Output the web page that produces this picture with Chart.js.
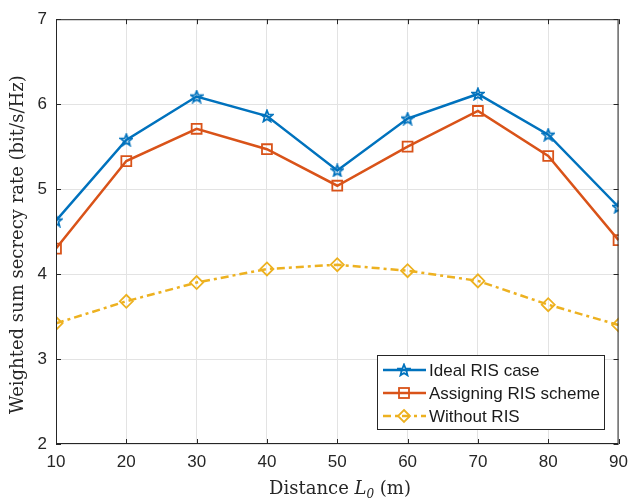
<title>Weighted sum secrecy rate</title>
<meta charset="UTF-8">
<body style="margin:0; background:#fff">
<script src="https://cdn.jsdelivr.net/npm/chart.js@4.4.1/dist/chart.umd.min.js"></script>
<div style="width:636px; height:499px">
<canvas id="chart1" width="636" height="499"></canvas>
</div>
<script>
// data
var distances = [10, 20, 30, 40, 50, 60, 70, 80, 90];
var idealRis = [4.63, 5.58, 6.09, 5.86, 5.22, 5.83, 6.12, 5.64, 4.79];
var assigningRis = [4.30, 5.33, 5.71, 5.47, 5.04, 5.50, 5.92, 5.39, 4.40];
var withoutRis = [3.42, 3.68, 3.90, 4.06, 4.11, 4.04, 3.92, 3.64, 3.40];
var seriesNames = ["Ideal RIS case", "Assigning RIS scheme", "Without RIS"];
var yTicks = [2, 3, 4, 5, 6, 7];

var blue = "#0072BD", orange = "#D95319", yellow = "#EDB120";
var sans = "'Liberation Sans', Arial, sans-serif";
var serif = "'DejaVu Serif', 'Liberation Serif', serif";

function starMarker(color) {
	var c = document.createElement("canvas");
	c.width = 14; c.height = 14;
	var g = c.getContext("2d");
	g.beginPath();
	for (var i = 0; i < 10; i++) {
		var r = (i % 2 == 0) ? 6 : 2.6;
		var a = -Math.PI / 2 + i * Math.PI / 5;
		var px = 7 + r * Math.cos(a), py = 7.5 + r * Math.sin(a);
		if (i == 0) g.moveTo(px, py); else g.lineTo(px, py);
	}
	g.closePath();
	g.strokeStyle = color;
	g.lineWidth = 1.8;
	g.stroke();
	return c;
}
var star = starMarker(blue);

var dashDot = [8, 4, 3, 4];

// box, inward ticks, axis titles, legend
var decor = {
	id: "decor",
	afterDraw: function(chart) {
		var ctx = chart.ctx, a = chart.chartArea;
		var xs = chart.scales.x, ys = chart.scales.y;
		ctx.save();
		ctx.strokeStyle = "#262626";
		ctx.lineWidth = 1;
		ctx.strokeRect(a.left + 0.5, a.top + 0.5, a.right - a.left - 1, a.bottom - a.top - 1);
		ctx.beginPath();
		distances.forEach(function(d) {
			var px = Math.round(xs.getPixelForValue(d)) + 0.5;
			ctx.moveTo(px, a.bottom); ctx.lineTo(px, a.bottom - 5);
			ctx.moveTo(px, a.top); ctx.lineTo(px, a.top + 5);
		});
		yTicks.forEach(function(v) {
			var py = Math.round(ys.getPixelForValue(v)) + 0.5;
			ctx.moveTo(a.left, py); ctx.lineTo(a.left + 5, py);
			ctx.moveTo(a.right, py); ctx.lineTo(a.right - 5, py);
		});
		ctx.stroke();

		// y title
		ctx.fillStyle = "#262626";
		ctx.save();
		ctx.translate(18, (a.top + a.bottom) / 2 + 13);
		ctx.rotate(-Math.PI / 2);
		ctx.font = "18px " + serif;
		ctx.textAlign = "center";
		ctx.textBaseline = "middle";
		ctx.fillText("Weighted sum secrecy rate (bit/s/Hz)", 0, 0);
		ctx.restore();

		// x title with italic L_0
		ctx.textBaseline = "alphabetic";
		ctx.textAlign = "left";
		var parts = [["Distance ", "18px " + serif, 0], ["L", "italic 18px " + serif, 0], ["0", "italic 12px " + serif, 4], [" (m)", "18px " + serif, 0]];
		var total = 0;
		parts.forEach(function(p) { ctx.font = p[1]; total += ctx.measureText(p[0]).width; });
		var x = 340 - total / 2, y = 494;
		parts.forEach(function(p) {
			ctx.font = p[1];
			ctx.fillText(p[0], x, y + p[2]);
			x += ctx.measureText(p[0]).width;
		});

		// legend
		var lx = 377, ly = 355, lw = 227, lh = 74;
		ctx.fillStyle = "#fff";
		ctx.fillRect(lx, ly, lw, lh);
		ctx.strokeStyle = "#262626";
		ctx.strokeRect(lx + 0.5, ly + 0.5, lw, lh);
		var styles = [[blue, [], "star"], [orange, [], "rect"], [yellow, dashDot, "diamond"]];
		styles.forEach(function(s, i) {
			var yy = 370 + i * 23;
			ctx.strokeStyle = s[0];
			ctx.lineWidth = 2.5;
			ctx.setLineDash(s[1]);
			ctx.beginPath(); ctx.moveTo(383, yy); ctx.lineTo(426, yy); ctx.stroke();
			ctx.setLineDash([]);
			ctx.lineWidth = 1.8;
			if (s[2] == "star") ctx.drawImage(star, 404 - 7, yy - 7);
			else if (s[2] == "rect") ctx.strokeRect(404 - 5, yy - 5, 10, 10);
			else {
				ctx.beginPath();
				ctx.moveTo(404, yy - 6); ctx.lineTo(410, yy); ctx.lineTo(404, yy + 6); ctx.lineTo(398, yy);
				ctx.closePath(); ctx.stroke();
			}
			ctx.fillStyle = "#1a1a1a";
			ctx.font = "17px " + sans;
			ctx.textBaseline = "middle";
			ctx.fillText(seriesNames[i], 429, yy + 1);
		});
		ctx.restore();
	}
};

new Chart("chart1", {
	type: "line",
	data: {
		labels: distances,
		datasets: [{
			label: seriesNames[0],
			data: idealRis,
			borderColor: blue,
			borderWidth: 2.5,
			pointStyle: star,
			pointBorderColor: blue,
			tension: 0
		}, {
			label: seriesNames[1],
			data: assigningRis,
			borderColor: orange,
			borderWidth: 2.5,
			pointStyle: "rect",
			pointRadius: 7,
			pointBorderWidth: 1.8,
			pointBackgroundColor: "rgba(0,0,0,0)",
			pointBorderColor: orange,
			tension: 0
		}, {
			label: seriesNames[2],
			data: withoutRis,
			borderColor: yellow,
			borderWidth: 2.5,
			borderDash: dashDot,
			pointStyle: "rectRot",
			pointRadius: 6.5,
			pointBorderWidth: 1.8,
			pointBackgroundColor: "rgba(0,0,0,0)",
			pointBorderColor: yellow,
			tension: 0
		}]
	},
	options: {
		responsive: false,
		animation: false,
		layout: { padding: { top: 16, right: 14, left: 0, bottom: 0 } },
		plugins: { legend: { display: false }, tooltip: { enabled: false } },
		scales: {
			x: {
				type: "linear",
				min: 10, max: 90,
				afterFit: function(s) { s.height = 55; },
				afterBuildTicks: function(s) { s.ticks = distances.map(function(v) { return { value: v }; }); },
				grid: { color: "#e3e3e3", drawTicks: false },
				border: { display: false },
				ticks: { color: "#262626", padding: 8, font: { family: sans, size: 17 } }
			},
			y: {
				min: 2, max: 7,
				afterFit: function(s) { s.width = 56; },
				afterBuildTicks: function(s) { s.ticks = yTicks.map(function(v) { return { value: v }; }); },
				grid: { color: "#e3e3e3", drawTicks: false },
				border: { display: false },
				ticks: { color: "#262626", padding: 9, font: { family: sans, size: 17 } }
			}
		}
	},
	plugins: [decor]
});
</script>
</body>
